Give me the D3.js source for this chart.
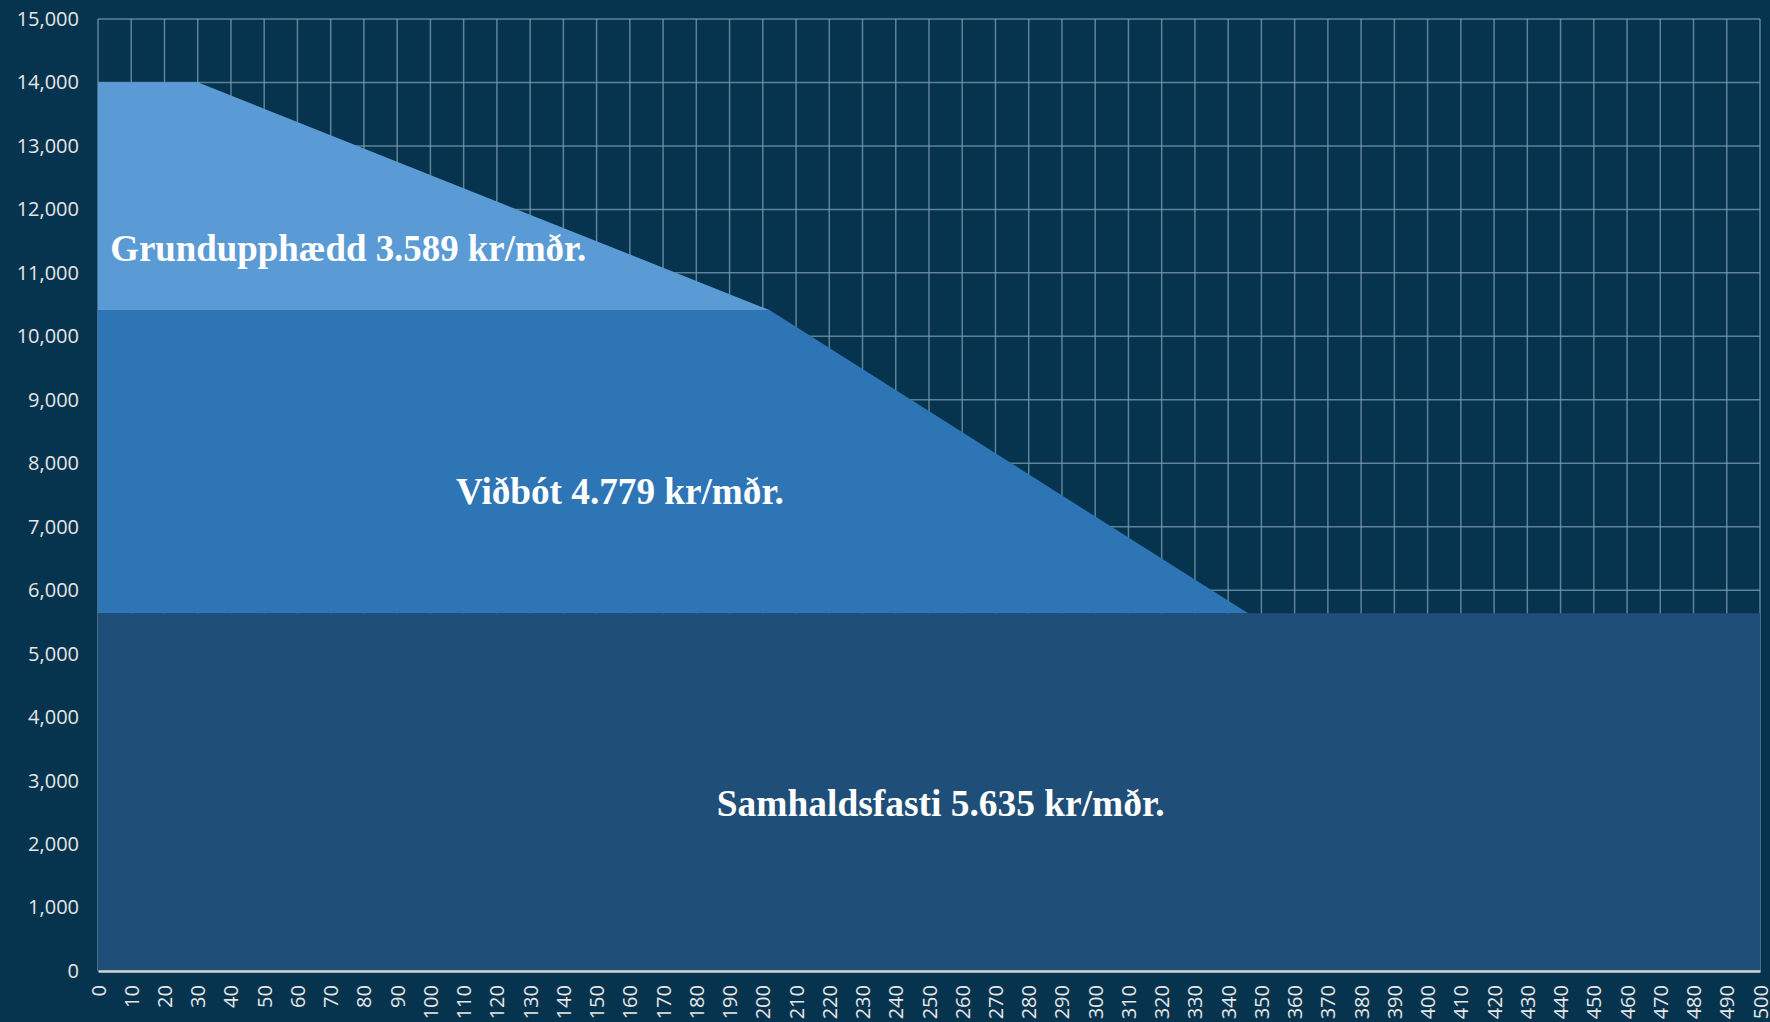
<!DOCTYPE html>
<html><head><meta charset="utf-8">
<script src="https://cdn.jsdelivr.net/npm/d3@7"></script>
<style>html,body{margin:0;padding:0;background:#06344f;} svg{display:block}</style>
</head><body>
<svg id="c" width="1770" height="1022"></svg>
<script>
// ---- data ----
const income = [0, 30, 202, 346, 500];              // x breakpoints
const samhaldsfasti = [5635, 5635, 5635, 5635, 5635];
const vidbot = [4779, 4779, 4779, 0, 0];
const grundupphaedd = [3589, 3589, 0, 0, 0];
const seriesKeys = ["samhaldsfasti", "vidbot", "grundupphaedd"];
const seriesLabels = ["Samhaldsfasti 5.635 kr/mðr.", "Viðbót 4.779 kr/mðr.", "Grundupphædd 3.589 kr/mðr."];
const xTicks = [0,10,20,30,40,50,60,70,80,90,100,110,120,130,140,150,160,170,180,190,200,210,220,230,240,250,260,270,280,290,300,310,320,330,340,350,360,370,380,390,400,410,420,430,440,450,460,470,480,490,500];
const yTicks = [0,1000,2000,3000,4000,5000,6000,7000,8000,9000,10000,11000,12000,13000,14000,15000];

// ---- layout ----
const W = 1770, H = 1022;
const M = {left: 98, right: 10, top: 19, bottom: 51};
const colors = {samhaldsfasti: "#1f4e79", vidbot: "#2e75b6", grundupphaedd: "#5b9bd5"};
const labelPos = {
  samhaldsfasti: {x: 253.5, y: 2650, anchor: "middle", w: 448},
  vidbot: {x: 157, y: 7560, anchor: "middle", w: 328},
  grundupphaedd: {x: 3.7, y: 11390, anchor: "start", w: 476}
};

const svg = d3.select("#c");
svg.append("rect").attr("width", W).attr("height", H).attr("fill", "#06344f");

const x = d3.scaleLinear().domain([0, 500]).range([M.left, W - M.right]);
const y = d3.scaleLinear().domain([0, 15000]).range([H - M.bottom, M.top]);

const table = income.map((v, i) => ({income: v, samhaldsfasti: samhaldsfasti[i], vidbot: vidbot[i], grundupphaedd: grundupphaedd[i]}));
const stacked = d3.stack().keys(seriesKeys)(table);

// gridlines
const grid = svg.append("g").attr("stroke", "#7f9cb0").attr("stroke-opacity", 0.75).attr("stroke-width", 1.5);
grid.selectAll("line.h").data(yTicks.filter(d => d > 0)).join("line")
  .attr("x1", x(0)).attr("x2", x(500)).attr("y1", d => y(d)).attr("y2", d => y(d));
grid.selectAll("line.v").data(xTicks).join("line")
  .attr("x1", d => x(d)).attr("x2", d => x(d)).attr("y1", y(0)).attr("y2", y(15000));

// areas
const area = d3.area().x(d => x(d.data.income)).y0(d => y(d[0])).y1(d => y(d[1]));
svg.append("g").selectAll("path").data(stacked).join("path")
  .attr("fill", d => colors[d.key]).attr("d", area);

// y axis
const yAxis = svg.append("g").attr("transform", `translate(${M.left},0)`)
  .call(d3.axisLeft(y).tickValues(yTicks).tickFormat(d3.format(",")).tickSize(0).tickPadding(19));
yAxis.select(".domain").remove();
yAxis.selectAll("text").attr("fill", "#e6e6e6").style("font-family", "'Open Sans', sans-serif").style("font-size", "20px");

// x axis
const xAxis = svg.append("g").attr("transform", `translate(0,${y(0)})`)
  .call(d3.axisBottom(x).tickValues(xTicks).tickFormat(d3.format("d")).tickSize(0));
xAxis.select(".domain").attr("stroke", "#d4d4d4").attr("stroke-width", 2.5);
xAxis.selectAll("text")
  .attr("fill", "#e6e6e6").style("font-family", "'Open Sans', sans-serif").style("font-size", "20px")
  .attr("transform", "rotate(-90)").attr("text-anchor", "end").attr("dy", "0.35em").attr("x", -14).attr("y", 0);

// series labels
const lg = svg.append("g");
seriesKeys.forEach((k, i) => {
  const p = labelPos[k];
  const t = lg.append("text").text(seriesLabels[i])
    .attr("x", x(p.x)).attr("y", y(p.y)).attr("dy", "0.35em")
    .attr("text-anchor", p.anchor).attr("fill", "#ffffff")
    .style("font-family", "'Liberation Serif', serif").style("font-weight", "bold").style("font-size", "33px");
  const w = t.node().getComputedTextLength();
  t.style("font-size", (33 * p.w / w).toFixed(2) + "px");
});
</script>
</body></html>
